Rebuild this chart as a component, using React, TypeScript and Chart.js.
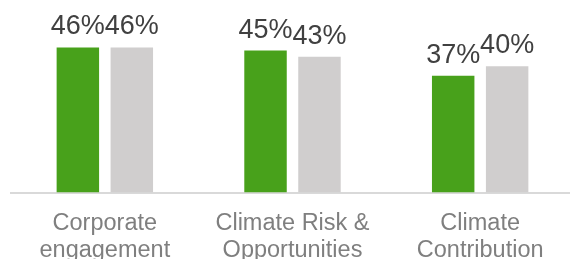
import React, { useEffect, useRef } from "react";
import { Chart, registerables } from "chart.js";

Chart.register(...registerables);

const categories: string[][] = [
  ["Corporate", "engagement"],
  ["Climate Risk &", "Opportunities"],
  ["Climate", "Contribution"],
];
const seriesGreen: number[] = [46, 45, 37];
const seriesGrey: number[] = [46, 43, 40];

const CANVAS_W = 580;
const CANVAS_H = 300;
const AXIS_Y = 192.5;

const dataLabelPlugin = {
  id: "dataLabels",
  afterDatasetsDraw(chart: any) {
    const ctx = chart.ctx;
    ctx.save();
    ctx.font = '27px "Liberation Sans", Arial, sans-serif';
    ctx.fillStyle = "#404040";
    ctx.textAlign = "center";
    ctx.textBaseline = "alphabetic";
    chart.data.datasets.forEach((ds: any, i: number) => {
      const meta = chart.getDatasetMeta(i);
      meta.data.forEach((el: any, j: number) => {
        ctx.fillText(`${ds.data[j]}%`, el.x, el.y - 13);
      });
    });
    ctx.restore();
  },
};

export default function App() {
  const ref = useRef<HTMLCanvasElement>(null);
  useEffect(() => {
    if (!ref.current) return;
    const chart = new Chart(ref.current, {
      type: "bar",
      data: {
        labels: categories,
        datasets: [
          {
            label: "A",
            data: seriesGreen,
            backgroundColor: "#48A11B",
            categoryPercentage: 0.575,
            barPercentage: 0.787,
          },
          {
            label: "B",
            data: seriesGrey,
            backgroundColor: "#D0CECE",
            categoryPercentage: 0.575,
            barPercentage: 0.787,
          },
        ],
      },
      options: {
        responsive: false,
        animation: false,
        layout: { padding: { left: 11, right: 6, top: 19, bottom: 0 } },
        plugins: {
          legend: { display: false },
          tooltip: { enabled: false },
        },
        scales: {
          x: {
            grid: { display: false, drawTicks: false },
            border: { display: true, color: "#D9D9D9", width: 2 },
            ticks: {
              color: "#7F7F7F",
              padding: 18,
              maxRotation: 0,
              autoSkip: false,
              font: { family: '"Liberation Sans", Arial, sans-serif', size: 23.5, lineHeight: 1.128 },
            },
            afterFit: (scale: any) => {
              scale.height = CANVAS_H - AXIS_Y;
            },
          },
          y: {
            display: false,
            min: 0,
            max: 55,
          },
        },
      },
      plugins: [dataLabelPlugin],
    });
    return () => chart.destroy();
  }, []);
  return (
    <div
      style={{
        position: "fixed",
        left: 0,
        top: 0,
        width: 570,
        height: 259,
        overflow: "hidden",
        background: "#fff",
      }}
    >
      <canvas ref={ref} width={CANVAS_W} height={CANVAS_H} style={{ display: "block", width: CANVAS_W, height: CANVAS_H }} />
    </div>
  );
}
